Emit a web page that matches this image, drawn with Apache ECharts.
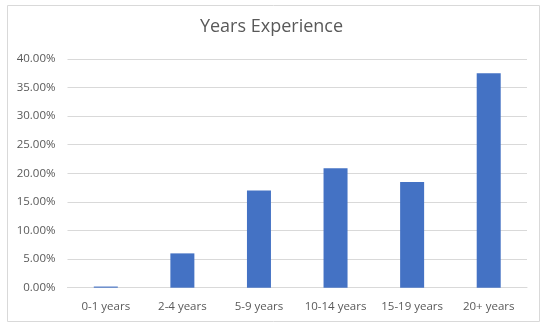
<!DOCTYPE html>
<html>
<head>
<meta charset="utf-8">
<style>html,body{margin:0;padding:0;background:#fff;}#c{width:543px;height:324px;}</style>
<script src="https://cdn.jsdelivr.net/npm/echarts@6/dist/echarts.min.js"></script>
</head>
<body>
<div id="c"></div>
<script>
const categories = ['0-1 years', '2-4 years', '5-9 years', '10-14 years', '15-19 years', '20+ years'];
const values = [0.2, 6.0, 17.0, 20.9, 18.5, 37.5];
const chart = echarts.init(document.getElementById('c'));
chart.setOption({
  animation: false,
  graphic: [{
    type: 'rect', left: 5, top: 3, shape: {width: 532, height: 316},
    style: {fill: 'none', stroke: '#d9d9d9', lineWidth: 1}
  }],
  title: {
    text: 'Years Experience', left: 'center', top: 13,
    textStyle: {fontFamily: 'Open Sans', fontSize: 18, fontWeight: 'normal', color: '#595959'}
  },
  grid: {left: 67.5, right: 16, top: 58.9, bottom: 36.3},
  xAxis: {
    type: 'category', data: categories,
    axisLine: {lineStyle: {color: '#d9d9d9'}},
    axisTick: {show: false},
    axisLabel: {color: '#595959', fontFamily: 'Open Sans', fontSize: 11.5, margin: 13, interval: 0}
  },
  yAxis: {
    type: 'value', min: 0, max: 40, interval: 5,
    axisLine: {show: false}, axisTick: {show: false},
    splitLine: {lineStyle: {color: '#d9d9d9'}},
    axisLabel: {color: '#595959', fontFamily: 'Open Sans', fontSize: 11.5, margin: 12,
      formatter: v => v.toFixed(2) + '%'}
  },
  series: [{
    type: 'bar', data: values, barWidth: 24,
    itemStyle: {color: '#4472c4'}
  }]
});
</script>
</body>
</html>
